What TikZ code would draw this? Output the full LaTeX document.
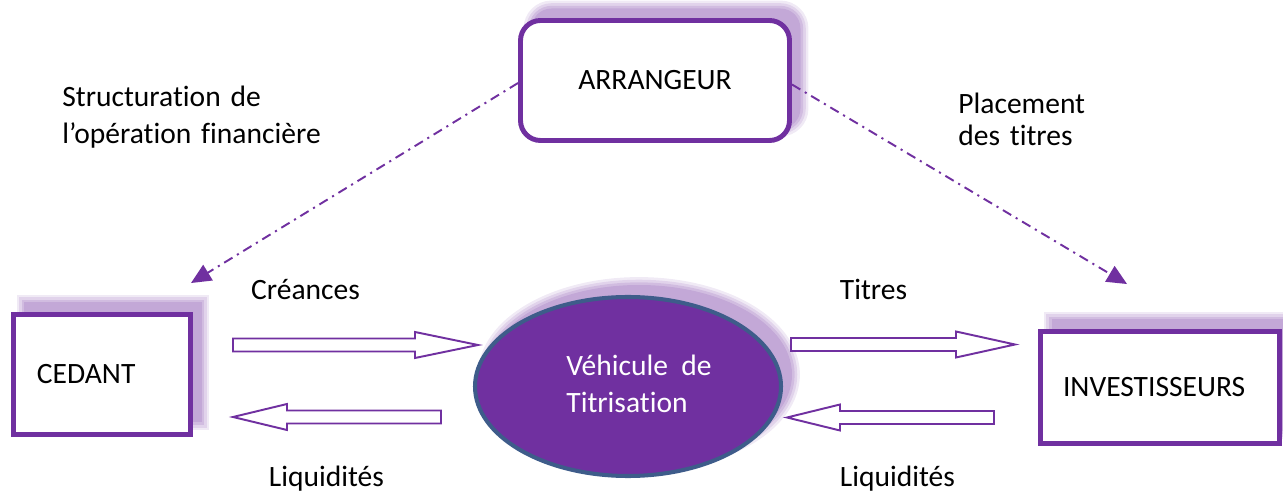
\documentclass[tikz,border=0pt]{standalone}
\usepackage{fontspec}
\setmainfont{Carlito}[Ligatures=NoCommon]
\usetikzlibrary{arrows.meta,shapes.geometric}
\begin{document}
\begin{tikzpicture}[
        font=\fontsize{16.8}{20.5}\selectfont,
        glowshift/.style={transform canvas={xshift=0.22cm, yshift=0.24cm}},
        glow/.style={
            preaction={draw=mainpurple, line width=9pt, opacity=.1, glowshift},
            preaction={draw=mainpurple, line width=6pt, opacity=.12, glowshift},
            preaction={draw=mainpurple, line width=3pt, opacity=.14, glowshift},
            preaction={fill=mainpurple!42, glowshift}},
        entity/.style={rectangle, draw=mainpurple, line width=2.8pt, fill=white, minimum height=2.4cm, inner ysep=0pt, align=left, glow},
        vehicle/.style={ellipse, draw=vehicleborder, line width=2.3pt, fill=mainpurple, minimum width=6.12cm, minimum height=3.58cm, glow},
        flowlabel/.style={anchor=base, inner sep=0pt},
        sidelabel/.style={anchor=base west, inner sep=0pt, text width=7cm, align=left},
        dashdot/.style={draw=mainpurple, line width=1.1pt, dash pattern=on 5.5pt off 3pt on 1.2pt off 3pt, -{Triangle[length=0.4cm, width=0.36cm]}},
        flowarrow/.style={draw=mainpurple, line width=1.1pt, fill=white}
    ]
        \definecolor{mainpurple}{RGB}{112,48,160}
        \definecolor{vehicleborder}{RGB}{62,92,138}
        \newcommand{\blockarrow}[4]{\draw[flowarrow] (#1,#4+0.13) -- (#2,#4+0.13) -- (#2,#4+0.26) -- (#3,#4) -- (#2,#4-0.26) -- (#2,#4-0.13) -- (#1,#4-0.13) -- cycle;}
        \useasboundingbox (0,0) rectangle (25.66,9.9);
         
        \node[entity, rounded corners=0.4cm, minimum width=5.38cm, align=center] (arranger) at (13.1, 8.29) {ARRANGEUR};
        \node[entity, minimum width=3.54cm, text width=2.6cm, inner xsep=0.47cm] (cedant) at (2.04, 2.41) {CEDANT};
        \node[entity, minimum width=4.78cm, minimum height=2.24cm, text width=3.88cm, inner xsep=0.45cm] (investisseurs) at (23.2, 2.15) {INVESTISSEURS};
        \node[vehicle] (vehicle) at (12.56, 2.17) {};
        \node[text=white, align=left, inner sep=0pt, font=\fontsize{16.8}{21}\selectfont] (vehicletext) at ([xshift=0.22cm, yshift=0.06cm]vehicle.center) {Véhicule~~de\\Titrisation};
         
        \node[sidelabel] (structlabel) at (1.24, 7.76) {Structuration de\\l’opération financière};
        \node[sidelabel, font=\fontsize{16.8}{18.2}\selectfont] (placelabel) at (19.16, 7.62) {Placement\\des titres};
        \node[flowlabel] (creances) at (6.11, 3.9) {Créances};
        \node[flowlabel] (titres) at (17.47, 3.9) {Titres};
        \node[flowlabel] (liqleft) at (6.53, 0.16) {Liquidités};
        \node[flowlabel] (liqright) at (17.95, 0.16) {Liquidités};
         
        \coordinate (cedanttip) at ([xshift=-0.04cm, yshift=0.58cm]cedant.north east);
        \coordinate (investtip) at ([xshift=1.78cm, yshift=0.9cm]investisseurs.north west);
        \draw[dashdot] ([yshift=-0.05cm]arranger.west) -- (cedanttip);
        \draw[dashdot] ([yshift=-0.08cm]arranger.east) -- (investtip);
         
        \blockarrow{4.66}{8.30}{9.56}{3.0}
        \blockarrow{8.82}{5.74}{4.66}{1.56}
        \blockarrow{15.82}{19.12}{20.30}{3.01}
        \blockarrow{19.88}{16.80}{15.74}{1.55}
    \end{tikzpicture}
\end{document}
